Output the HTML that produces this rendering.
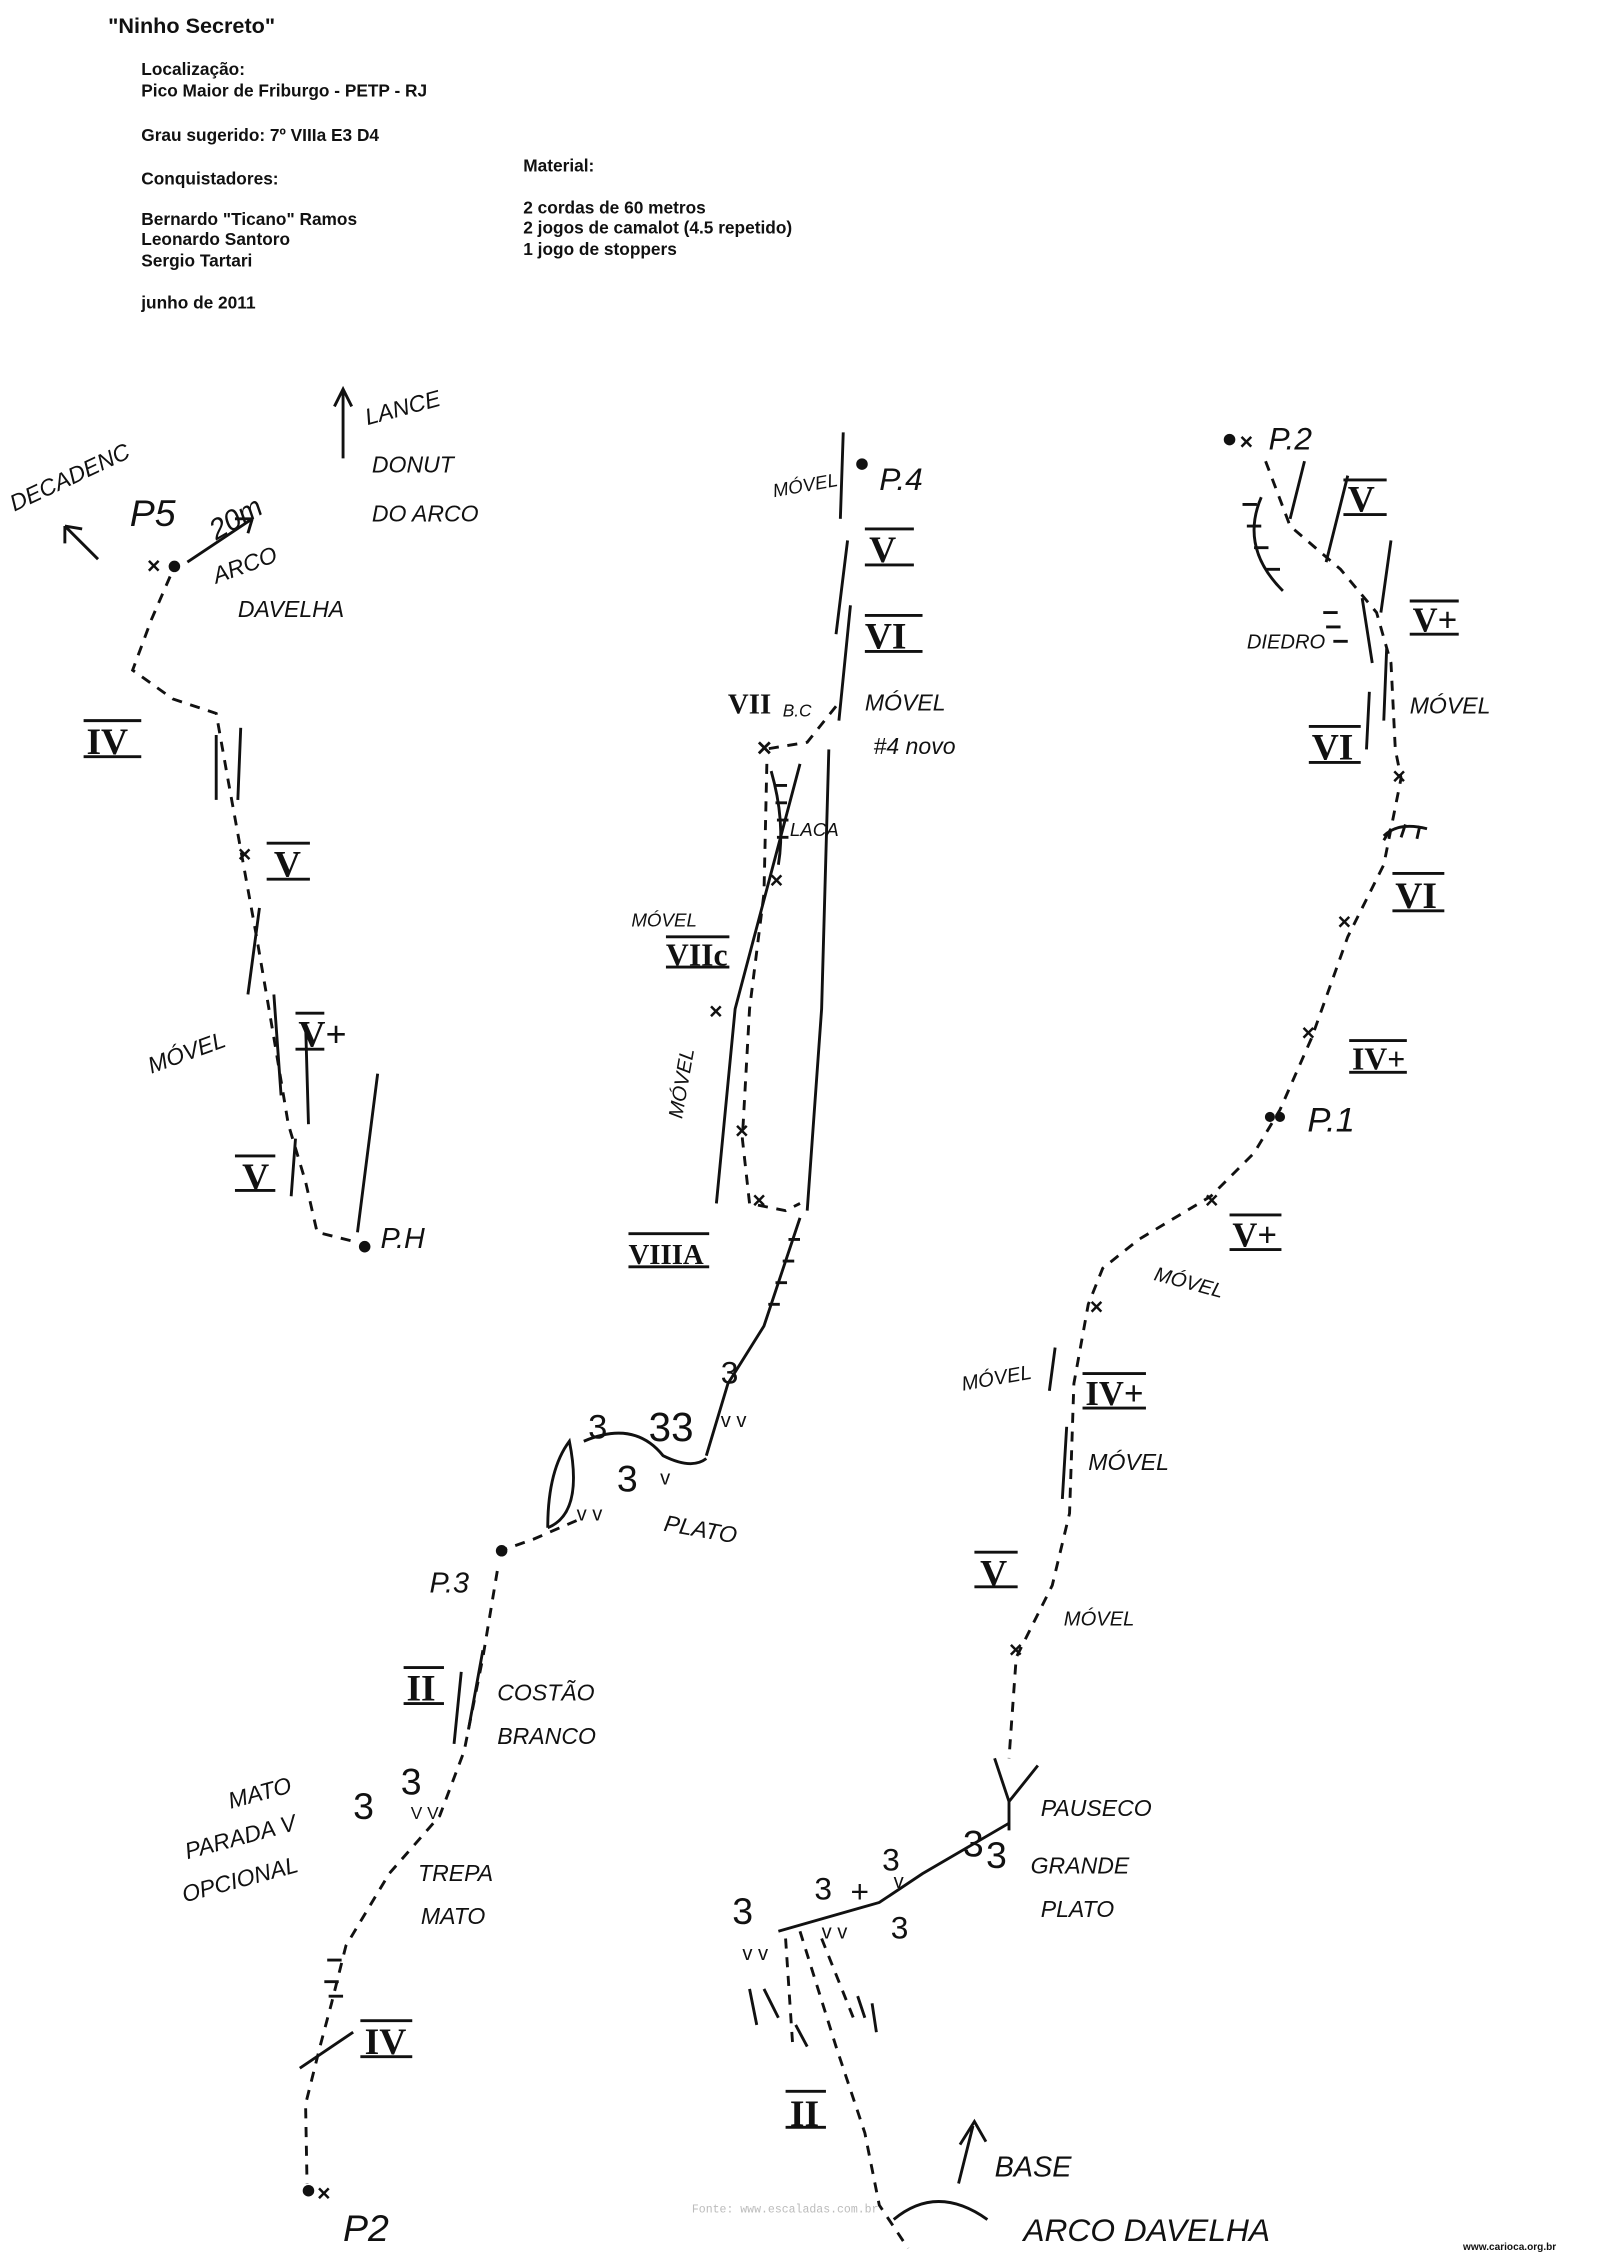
<!DOCTYPE html>
<html><head><meta charset="utf-8"><style>
html,body{margin:0;padding:0;background:#fff}
svg{display:block}
.h{font-family:"Liberation Sans Narrow","Liberation Sans",sans-serif;font-weight:bold;font-size:12px;fill:#111}
.w{font-family:"Liberation Sans",sans-serif;font-size:16px;fill:#111;font-style:italic}
.r{font-family:"Liberation Serif",serif;font-weight:bold;font-size:26px;fill:#111}
.d{fill:none;stroke:#111;stroke-width:2;stroke-dasharray:7 6}
.s{fill:none;stroke:#111;stroke-width:2}
</style></head><body>
<svg width="1600" height="2257" viewBox="0 0 1110 1566" preserveAspectRatio="none" xmlns="http://www.w3.org/2000/svg">
<rect width="1110" height="1566" fill="#fff"/>
<text x="75" y="23" class="h" style="font-size:15px">"Ninho  Secreto"</text>
<text x="98" y="52" class="h">Localização:</text>
<text x="98" y="67" class="h">Pico Maior de Friburgo - PETP - RJ</text>
<text x="98" y="98" class="h">Grau sugerido: 7º VIIIa E3 D4</text>
<text x="98" y="128" class="h">Conquistadores:</text>
<text x="98" y="156" class="h">Bernardo "Ticano" Ramos</text>
<text x="98" y="170" class="h">Leonardo Santoro</text>
<text x="98" y="185" class="h">Sergio Tartari</text>
<text x="98" y="214" class="h">junho de 2011</text>
<text x="363" y="119" class="h">Material:</text>
<text x="363" y="148" class="h">2 cordas de 60 metros</text>
<text x="363" y="162" class="h">2 jogos de camalot (4.5 repetido)</text>
<text x="363" y="177" class="h">1 jogo de stoppers</text>

<!-- left route -->
<text x="10" y="355" class="w" transform="rotate(-25 10 355)">DECADENC</text>
<path class="s" d="M68 388 L45 365 M45 365 l0 12 M45 365 l12 2"/>
<text x="90" y="365" class="w" style="font-size:26px">P5</text>
<text x="150" y="375" class="w" transform="rotate(-30 150 375)" style="font-size:20px">20m</text>
<path class="s" d="M130 390 L175 360 M175 360 l-12 0 M175 360 l-3 10"/>
<text x="150" y="405" class="w" transform="rotate(-20 150 405)">ARCO</text>
<text x="165" y="428" class="w">DAVELHA</text>
<path class="s" d="M238 318 L238 272 M232 282 L238 270 L244 282"/>
<text x="255" y="295" class="w" transform="rotate(-15 255 295)">LANCE</text>
<text x="258" y="328" class="w">DONUT</text>
<text x="258" y="362" class="w">DO ARCO</text>
<text x="102" y="398" class="w" style="font-style:normal;font-weight:bold">×</text>
<circle cx="121" cy="393" r="4" fill="#111"/>
<path class="d" d="M118 400 L105 430 L92 465 L120 485 L150 495 L158 540 L168 595 L178 650 L190 720 L200 780 L212 820 L220 855 L248 862"/>
<path class="s" d="M150 510 L150 555 M167 505 L165 555 M180 630 L172 690 M190 690 L195 760 M212 710 L214 780 M262 745 L248 855 M205 790 L202 830"/>
<text x="165" y="598" class="w" style="font-style:normal;font-weight:bold">×</text>
<circle cx="253" cy="865" r="4" fill="#111"/>
<text x="264" y="866" class="w" style="font-size:20px">P.H</text>
<text x="60" y="523" class="r">IV</text><path class="s" d="M58 500 h40 M58 525 h40"/>
<text x="190" y="608" class="r">V</text><path class="s" d="M185 585 h30 M185 610 h30"/>
<text x="105" y="745" class="w" transform="rotate(-20 105 745)">MÓVEL</text>
<text x="207" y="726" class="r">V+</text><path class="s" d="M205 703 h20 M205 728 h20"/>
<text x="168" y="825" class="r">V</text><path class="s" d="M163 802 h28 M163 826 h28"/>

<!-- middle route -->
<text x="537" y="345" class="w" transform="rotate(-10 537 345)" style="font-size:13px">MÓVEL</text>
<circle cx="598" cy="322" r="4" fill="#111"/>
<text x="610" y="340" class="w" style="font-size:22px">P.4</text>
<path class="s" d="M585 300 L583 360 M588 375 L580 440 M590 420 L582 500 M575 520 L570 700 L560 840 M555 530 L510 700 L497 835"/>
<path class="d" d="M580 490 L560 515 L530 520 M532 530 L530 620 L520 700 L515 790 L520 835 L545 840 L555 835"/>
<text x="603" y="390" class="r">V</text><path class="s" d="M600 367 h34 M600 392 h34"/>
<text x="600" y="450" class="r">VI</text><path class="s" d="M600 427 h40 M600 452 h40"/>
<text x="505" y="495" class="r" style="font-size:20px">VII</text><text x="543" y="497" class="w" style="font-size:12px">B.C</text>
<text x="600" y="493" class="w">MÓVEL</text>
<text x="606" y="523" class="w">#4 novo</text>
<text x="525" y="525" class="w" style="font-style:normal;font-weight:bold;font-size:18px">×</text>
<path class="s" d="M535 535 Q545 570 540 600"/>
<path class="s" d="M538 545 h8 M538 557 h8 M539 569 h8 M539 581 h8"/>
<text x="548" y="580" class="w" style="font-size:13px">LACA</text>
<text x="534" y="616" class="w" style="font-style:normal;font-weight:bold">×</text>
<text x="438" y="643" class="w" style="font-size:13px">MÓVEL</text>
<text x="462" y="670" class="r" style="font-size:22px">VIIc</text><path class="s" d="M462 650 h44 M462 671 h44"/>
<text x="492" y="707" class="w" style="font-style:normal;font-weight:bold">×</text>
<text x="455" y="775" class="w" transform="rotate(-80 465 765)" style="font-size:14px">MÓVEL</text>
<text x="510" y="790" class="w" style="font-style:normal;font-weight:bold">×</text>
<text x="522" y="838" class="w" style="font-style:normal;font-weight:bold">×</text>
<text x="436" y="877" class="r" style="font-size:20px">VIIIA</text><path class="s" d="M436 856 h56 M436 879 h56"/>
<path class="s" d="M555 845 L530 920 L505 960 L490 1010"/>
<path class="s" d="M547 860 h8 M543 875 h8 M538 890 h8 M533 905 h8"/>
<path class="s" d="M405 1000 Q440 985 460 1010 Q480 1020 490 1012"/>
<path class="s" d="M380 1060 Q380 1020 395 1000 Q405 1050 380 1060"/>
<text x="408" y="998" class="w" style="font-style:normal;font-size:24px">3</text>
<text x="450" y="1000" class="w" style="font-style:normal;font-size:28px">33</text>
<text x="500" y="960" class="w" style="font-style:normal;font-size:22px">3</text>
<text x="428" y="1035" class="w" style="font-style:normal;font-size:26px">3</text>
<text x="400" y="1055" class="w" style="font-style:normal;font-size:14px">v v</text>
<text x="458" y="1030" class="w" style="font-style:normal;font-size:14px">v</text>
<text x="500" y="990" class="w" style="font-style:normal;font-size:14px">v v</text>
<text x="460" y="1062" class="w" transform="rotate(10 460 1062)">PLATO</text>
<path class="d" d="M400 1055 L370 1068 L350 1075"/>
<circle cx="348" cy="1076" r="4" fill="#111"/>
<text x="298" y="1105" class="w" style="font-size:20px">P.3</text>
<path class="d" d="M345 1090 L335 1150 L322 1215 L305 1260 L270 1300 L240 1350 L230 1390 L222 1420 L212 1460 L213 1515"/>
<path class="s" d="M335 1145 L325 1200 M320 1160 L315 1210"/>
<text x="282" y="1180" class="r">II</text><path class="s" d="M280 1157 h28 M280 1182 h28"/>
<text x="345" y="1180" class="w">COSTÃO</text>
<text x="345" y="1210" class="w">BRANCO</text>
<text x="160" y="1255" class="w" transform="rotate(-15 160 1255)">MATO</text>
<text x="130" y="1290" class="w" transform="rotate(-15 130 1290)">PARADA V</text>
<text x="128" y="1320" class="w" transform="rotate(-15 128 1320)">OPCIONAL</text>
<text x="245" y="1262" class="w" style="font-style:normal;font-size:26px">3</text>
<text x="278" y="1245" class="w" style="font-style:normal;font-size:26px">3</text>
<text x="285" y="1262" class="w" style="font-style:normal;font-size:12px">V V</text>
<text x="290" y="1305" class="w">TREPA</text>
<text x="292" y="1335" class="w">MATO</text>
<path class="s" d="M227 1360 h10 M225 1375 h10 M228 1385 h10"/>
<path class="s" d="M208 1435 L245 1410"/>
<text x="253" y="1425" class="r">IV</text><path class="s" d="M250 1402 h36 M250 1427 h36"/>
<circle cx="214" cy="1520" r="4" fill="#111"/>
<text x="220" y="1527" class="w" style="font-style:normal;font-weight:bold">×</text>
<text x="238" y="1555" class="w" style="font-size:26px">P2</text>

<!-- right route -->
<circle cx="853" cy="305" r="4" fill="#111"/>
<text x="860" y="312" class="w" style="font-style:normal;font-weight:bold">×</text>
<text x="880" y="312" class="w" style="font-size:22px">P.2</text>
<path class="d" d="M878 320 L895 365 L930 395 L955 425 L965 460 L968 520 L972 540 L960 600 L935 650 L910 720 L888 770 L870 800 L840 830 L790 860 L765 880 L755 905 L745 960 L742 1050 L730 1100 L705 1150 L700 1220"/>
<path class="s" d="M875 345 Q860 380 890 410"/>
<path class="s" d="M862 350 h10 M865 365 h10 M870 380 h10 M878 395 h10"/>
<path class="s" d="M905 320 L895 360 M935 330 L920 390 M965 375 L958 425 M945 415 L952 460"/>
<path class="s" d="M918 425 h10 M920 435 h10 M925 445 h10"/>
<text x="935" y="355" class="r">V</text><path class="s" d="M932 333 h30 M932 357 h30"/>
<text x="865" y="450" class="w" style="font-size:14px">DIEDRO</text>
<text x="980" y="438" class="r" style="font-size:24px">V+</text><path class="s" d="M978 417 h34 M978 440 h34"/>
<path class="s" d="M962 450 L960 500 M950 480 L948 520"/>
<text x="978" y="495" class="w">MÓVEL</text>
<text x="910" y="527" class="r">VI</text><path class="s" d="M908 504 h36 M908 529 h36"/>
<text x="966" y="544" class="w" style="font-style:normal;font-weight:bold">×</text>
<path class="s" d="M960 580 Q970 570 990 575 M965 575 l-5 8 M975 572 l-3 9 M985 573 l-2 9"/>
<text x="968" y="630" class="r">VI</text><path class="s" d="M966 606 h36 M966 632 h36"/>
<text x="928" y="645" class="w" style="font-style:normal;font-weight:bold">×</text>
<text x="903" y="722" class="w" style="font-style:normal;font-weight:bold">×</text>
<text x="938" y="742" class="r" style="font-size:22px">IV+</text><path class="s" d="M936 722 h40 M936 744 h40"/>
<circle cx="881" cy="775" r="3.5" fill="#111"/><circle cx="888" cy="775" r="3.5" fill="#111"/>
<text x="907" y="785" class="w" style="font-size:24px">P.1</text>
<text x="836" y="838" class="w" style="font-style:normal;font-weight:bold">×</text>
<text x="855" y="865" class="r" style="font-size:24px">V+</text><path class="s" d="M853 843 h36 M853 867 h36"/>
<text x="800" y="888" class="w" transform="rotate(15 800 888)" style="font-size:14px">MÓVEL</text>
<text x="756" y="912" class="w" style="font-style:normal;font-weight:bold">×</text>
<text x="668" y="965" class="w" transform="rotate(-10 668 965)" style="font-size:14px">MÓVEL</text>
<path class="s" d="M732 935 L728 965 M740 990 L737 1040"/>
<text x="753" y="975" class="r" style="font-size:24px">IV+</text><path class="s" d="M751 953 h44 M751 977 h44"/>
<text x="755" y="1020" class="w">MÓVEL</text>
<text x="680" y="1100" class="r">V</text><path class="s" d="M676 1077 h30 M676 1101 h30"/>
<text x="738" y="1128" class="w" style="font-size:14px">MÓVEL</text>
<text x="700" y="1150" class="w" style="font-style:normal;font-weight:bold">×</text>
<path class="s" d="M690 1220 L700 1250 L720 1225 M700 1250 L700 1270"/>
<text x="722" y="1260" class="w">PAUSECO</text>
<path class="s" d="M540 1340 L610 1320 L640 1300 L700 1265"/>
<text x="668" y="1288" class="w" style="font-style:normal;font-size:26px">3</text>
<text x="684" y="1296" class="w" style="font-style:normal;font-size:26px">3</text>
<text x="612" y="1298" class="w" style="font-style:normal;font-size:22px">3</text>
<text x="565" y="1318" class="w" style="font-style:normal;font-size:22px">3</text>
<text x="590" y="1320" class="w" style="font-style:normal;font-size:22px">+</text>
<text x="618" y="1345" class="w" style="font-style:normal;font-size:22px">3</text>
<text x="508" y="1335" class="w" style="font-style:normal;font-size:26px">3</text>
<text x="515" y="1360" class="w" style="font-style:normal;font-size:14px">v v</text>
<text x="570" y="1345" class="w" style="font-style:normal;font-size:14px">v v</text>
<text x="620" y="1310" class="w" style="font-style:normal;font-size:14px">v</text>
<text x="715" y="1300" class="w">GRANDE</text>
<text x="722" y="1330" class="w">PLATO</text>
<path class="d" d="M545 1345 L550 1420 M555 1340 L580 1420 L600 1480 L610 1530 L630 1560 M570 1345 L592 1400"/>
<path class="s" d="M520 1380 L525 1405 M530 1380 L540 1400 M552 1405 L560 1420 M595 1385 L600 1400 M605 1390 L608 1410"/>
<text x="548" y="1475" class="r">II</text><path class="s" d="M545 1451 h28 M545 1476 h28"/>
<path class="s" d="M665 1515 L675 1475 M666 1488 L676 1472 L684 1486"/>
<path class="s" d="M620 1540 Q650 1515 685 1540"/>
<text x="690" y="1510" class="w" style="font-size:20px">BASE</text>
<text x="710" y="1555" class="w" style="font-size:22px">ARCO DAVELHA</text>
<text x="480" y="1535" style="font-family:'Liberation Mono',monospace;font-size:8px;fill:#bbb">Fonte: www.escaladas.com.br</text>
<text x="1015" y="1561" style="font-family:'Liberation Sans',sans-serif;font-size:7px;font-weight:bold;fill:#111">www.carioca.org.br</text>
</svg>
</body></html>
